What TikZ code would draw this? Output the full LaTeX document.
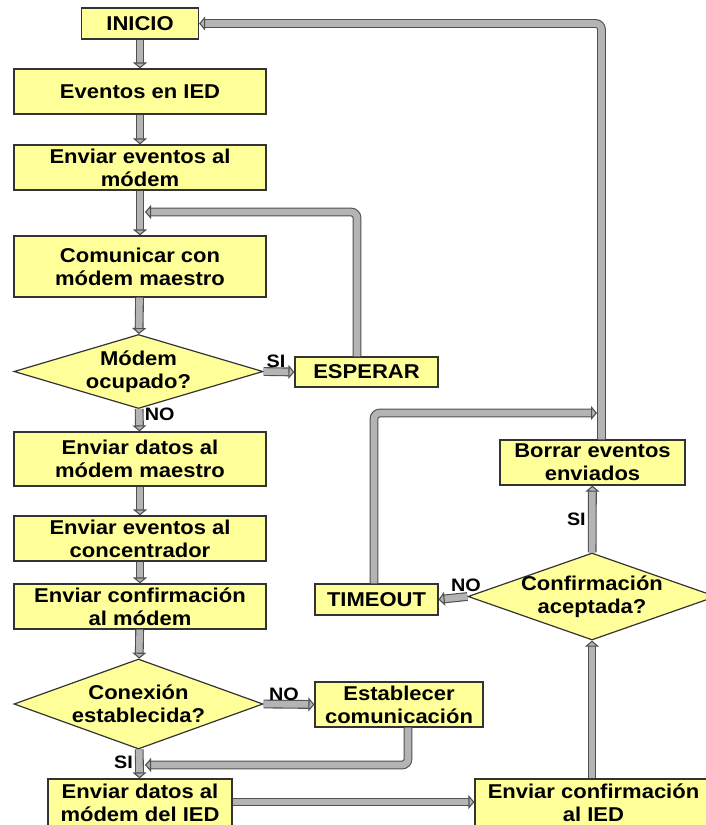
\documentclass[tikz,border=0pt]{standalone}
\usepackage{fontspec}
\setmainfont{Liberation Sans}[FakeStretch=1.1]
\usetikzlibrary{arrows.meta,shapes.geometric,calc}
\definecolor{FlowYellow}{HTML}{FFFF99}
\definecolor{FlowEdge}{HTML}{333333}
\definecolor{FlowPipe}{HTML}{B4B4B4}
\definecolor{FlowLine}{HTML}{505050}

\begin{document}
\begin{tikzpicture}[x=1pt,y=-1pt,
    box/.style={
      draw=FlowEdge,
      fill=FlowYellow,
      line width=1.2pt,
      align=center,
      inner sep=1pt,
      font=\bfseries\fontsize{20}{23}\selectfont
    },
    decision/.style={
      diamond,
      aspect=2.8,
      draw=FlowEdge,
      fill=FlowYellow,
      line width=1.2pt,
      align=center,
      inner sep=-10pt,
      font=\bfseries\fontsize{20}{23}\selectfont
    },
    lbl/.style={font=\bfseries\fontsize{18}{20}\selectfont, inner sep=1pt},
    arrow/.style={
      draw=FlowLine,
      line width=1.1pt,
      double=FlowPipe,
      double distance=6.6pt,
      rounded corners=6pt,
      -{Triangle[length=6pt,width=14pt,fill=FlowPipe]}
    }]

    \useasboundingbox (0,0) rectangle (706,825);

    % left column
    \node[box,minimum width=117pt,minimum height=31pt] (inicio) at (140,23.5) {INICIO};
    \node[box,minimum width=252pt,minimum height=45pt] (eventos) at (140,91.5) {Eventos en IED};
    \node[box,minimum width=252pt,minimum height=45pt] (envmodem) at (140,167.5) {Enviar eventos al\\módem};
    \node[box,minimum width=252pt,minimum height=61pt] (comunicar) at (140,266.5) {Comunicar con\\módem maestro};
    \node[decision,minimum width=249pt,minimum height=74pt] (ocupado) at (138.5,371.5) {Módem\\ocupado?};
    \node[box,minimum width=252pt,minimum height=54pt] (datos) at (140,459) {Enviar datos al\\módem maestro};
    \node[box,minimum width=252pt,minimum height=45pt] (concentrador) at (140,538.5) {Enviar eventos al\\concentrador};
    \node[box,minimum width=252pt,minimum height=45pt] (confmodem) at (140,606.5) {Enviar confirmación\\al módem};
    \node[decision,minimum width=249pt,minimum height=90pt] (conexion) at (138.5,704) {Conexión\\establecida?};
    \node[box,minimum width=184pt,minimum height=47pt] (datosied) at (140,802.5) {Enviar datos al\\módem del IED};

    % side boxes
    \node[box,minimum width=143pt,minimum height=30pt] (esperar) at (366.5,372) {ESPERAR};
    \node[box,minimum width=168pt,minimum height=45pt] (establecer) at (399,704.5) {Establecer\\comunicación};
    \node[box,minimum width=123pt,minimum height=31pt] (timeout) at (376.5,599.5) {TIMEOUT};

    % right column
    \node[box,minimum width=185pt,minimum height=45pt] (borrar) at (592.5,462.5) {Borrar eventos\\enviados};
    \node[decision,minimum width=248pt,minimum height=87pt] (aceptada) at (592,596.5) {Confirmación\\aceptada?};
    \node[box,minimum width=237pt,minimum height=47pt] (confied) at (593.5,802.5) {Enviar confirmación\\al IED};

    % merge points on the vertical flow lines
    \coordinate (joinA) at (145,212);
    \coordinate (joinB) at (145,765);
    \coordinate (joinC) at (597,413);

    % main flow
    \draw[arrow] (inicio) -- (eventos);
    \draw[arrow] (eventos) -- (envmodem);
    \draw[arrow] (envmodem) -- (comunicar);
    \draw[arrow] (comunicar) -- (ocupado);
    \draw[arrow] (ocupado) -- node[lbl,pos=0.25,right=4pt] {NO} (datos);
    \draw[arrow] (datos) -- (concentrador);
    \draw[arrow] (concentrador) -- (confmodem);
    \draw[arrow] (confmodem) -- (conexion);
    \draw[arrow] (conexion) -- node[lbl,pos=0.45,left=5pt] {SI} (datosied);
    \draw[arrow] (datosied.east |- 0,802) -- (confied.west |- 0,802);
    \draw[arrow] (confied.north -| aceptada) -- (aceptada);
    \draw[arrow] (aceptada) -- node[lbl,left=5pt] {SI} (borrar);

    % branches
    \draw[arrow] (ocupado.east) -- node[lbl,pos=0.4,above=2pt] {SI} (esperar.west);
    \draw[arrow] (conexion.east) -- node[lbl,pos=0.4,above=2pt] {NO} (establecer.west);
    \draw[arrow] (aceptada.west) -- node[lbl,pos=0.05,above=3pt] {NO} (timeout.east);

    % loops back
    \draw[arrow] ([xshift=-9.5pt]esperar.north) |- (joinA);
    \draw[arrow] ([xshift=9pt]establecer.south) |- (joinB);
    \draw[arrow] ([xshift=-2.5pt]timeout.north) |- (joinC);
    \draw[arrow] ([xshift=9pt]borrar.north) |- (inicio.east);
  \end{tikzpicture}
\end{document}
